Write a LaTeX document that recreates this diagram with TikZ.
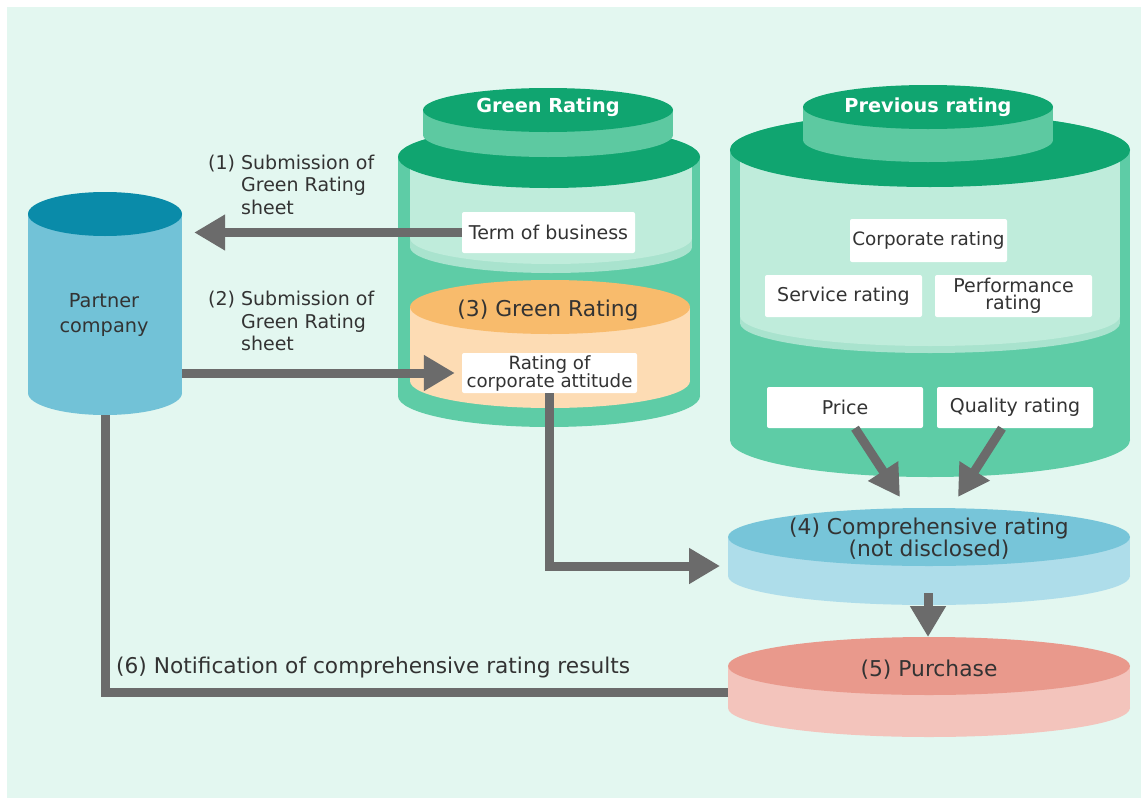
\documentclass[tikz,border=0pt]{standalone}
\usepackage{fontspec}
\setmainfont{DejaVu Sans}
\usetikzlibrary{arrows.meta}
\definecolor{bg}{HTML}{E3F7F0}
\definecolor{dkgreen}{HTML}{10A570}
\definecolor{midgreen}{HTML}{5ECCA6}
\definecolor{capgreen}{HTML}{5DC9A1}
\definecolor{lightgreen}{HTML}{BFECDB}
\definecolor{bandgreen}{HTML}{A9E3CE}
\definecolor{orangetop}{HTML}{F8BB6C}
\definecolor{orangebody}{HTML}{FDDCB4}
\definecolor{ptop}{HTML}{0A8BA9}
\definecolor{pbody}{HTML}{72C2D7}
\definecolor{ctop}{HTML}{77C5D9}
\definecolor{cbody}{HTML}{AEDDEA}
\definecolor{stop}{HTML}{E9998C}
\definecolor{sbody}{HTML}{F3C4BC}
\definecolor{arrowgray}{HTML}{6B6B6B}
\definecolor{txt}{HTML}{333333}
% cx, rx, ytop, ybot, ry, body colour, top colour
\newcommand{\mycyl}[7]{%
  \fill[#6] (#1-#2,#3) rectangle (#1+#2,#4);
  \fill[#6] (#1,#4) ellipse [x radius=#2pt, y radius=#5pt];
  \fill[#7] (#1,#3) ellipse [x radius=#2pt, y radius=#5pt];
}
% cx, rx, ytop, ybot, ry, colour  (body only, no top)
\newcommand{\mylayer}[6]{%
  \fill[#6] (#1-#2,#3) rectangle (#1+#2,#4);
  \fill[#6] (#1,#4) ellipse [x radius=#2pt, y radius=#5pt];
}
\tikzset{
  box/.style={fill=white, rounded corners=2pt, inner sep=0pt, align=center,
    text=txt, font=\fontsize{19}{17.5}\selectfont},
  lbl/.style={text=txt, inner sep=0pt, font=\fontsize{19}{22.5}\selectfont},
  disclbl/.style={text=txt, inner sep=0pt, align=center, font=\fontsize{21.8}{20}\selectfont},
  title/.style={text=white, inner sep=0pt, font=\fontsize{19.3}{22}\selectfont\bfseries},
  conn/.style={draw=arrowgray, line width=9pt, -{Triangle[length=31pt,width=34pt]}},
  plain/.style={draw=arrowgray, line width=9pt},
}
\begin{document}
\begin{tikzpicture}[x=1pt,y=-1pt]
\useasboundingbox (0,0) rectangle (1141,798);
\fill[white] (0,0) rectangle (1141,798);
\fill[bg] (7,7) rectangle (1141,798);

% ---- Partner company
\mycyl{105}{77}{214}{393}{22}{pbody}{ptop}
\node[minimum width=154pt, minimum height=223pt, inner sep=0pt] (partner) at (105,303.5) {};
\node[lbl, align=center, font=\fontsize{19.3}{25}\selectfont] (ptext) at (104,315) {Partner\\company};

% ---- Green Rating cylinder
\mycyl{549}{151}{157}{396}{31}{midgreen}{midgreen}
\mylayer{551}{141}{157}{247}{26}{bandgreen}
\mylayer{551}{141}{157}{238}{26}{lightgreen}
\mycyl{550}{140}{307}{381}{27}{orangebody}{orangetop}
\fill[dkgreen] (549,157) ellipse [x radius=151pt, y radius=31pt];
\mycyl{548}{125}{110}{135}{22}{capgreen}{dkgreen}
\node[title] (grt) at (548,107) {Green Rating};
\node[disclbl] (g3) at (548,310) {(3) Green Rating};

% ---- Previous rating cylinder
\mycyl{930}{200}{150}{440}{37}{midgreen}{midgreen}
\mylayer{930}{190}{150}{323}{30}{bandgreen}
\mylayer{930}{190}{150}{316}{30}{lightgreen}
\fill[dkgreen] (930,150) ellipse [x radius=200pt, y radius=37pt];
\mycyl{928}{125}{107}{140}{22}{capgreen}{dkgreen}
\node[title] (prt) at (928,107) {Previous rating};

% ---- Comprehensive rating disc
\mycyl{929}{201}{537}{576}{29}{cbody}{ctop}
\node[disclbl] (c4) at (929,539) {(4) Comprehensive rating\\(not disclosed)};

% ---- Purchase disc
\mycyl{929}{201}{666}{708}{29}{sbody}{stop}
\node[disclbl] (c5) at (929,670) {(5) Purchase};

% ---- boxes
\node[box, minimum width=173pt, minimum height=41pt] (term) at (548.5,232.5) {Term of business};
\node[box, minimum width=175pt, minimum height=40pt, font=\fontsize{18.2}{18}\selectfont] (attitude) at (549.5,373) {Rating of\\corporate attitude};
\node[box, minimum width=157pt, minimum height=43pt, font=\fontsize{18.4}{18}\selectfont] (corp) at (928.5,240.5) {Corporate rating};
\node[box, minimum width=157pt, minimum height=42pt] (service) at (843.5,296) {Service rating};
\node[box, minimum width=157pt, minimum height=42pt] (perf) at (1013.5,296) {Performance\\rating};
\node[box, minimum width=156pt, minimum height=41pt] (price) at (845,407.5) {Price};
\node[box, minimum width=156pt, minimum height=41pt] (quality) at (1015,407.5) {Quality rating};

% ---- labels
\node[lbl, anchor=west] (l1) at (208,187) {\begin{tabular}{@{}l@{ }l@{}}(1)&Submission of\\&Green Rating\\&sheet\end{tabular}};
\node[lbl, anchor=west] (l2) at (208,323.5) {\begin{tabular}{@{}l@{ }l@{}}(2)&Submission of\\&Green Rating\\&sheet\end{tabular}};
\node[lbl, anchor=west, font=\fontsize{21.7}{24}\selectfont] (l6) at (116,668) {(6) Notification of comprehensive rating results};

% ---- coordinates
\coordinate (compL) at (728,566);
\coordinate (t4a) at (900,497);
\coordinate (t4b) at (958,497);
\coordinate (c4b) at (928,593);
\coordinate (c5t) at (928,637);
\coordinate (purchL) at (728,692);

% ---- connectors
\draw[conn, shorten >=12pt] (term.west) -- (term.west -| partner.east);
\draw[conn, shorten >=7pt] (partner.east |- attitude.west) -- (attitude.west);
\draw[conn, shorten >=8pt] (attitude.south) |- (compL);
\draw[conn] ([xshift=10pt]price.south) -- (t4a);
\draw[conn] ([xshift=-13pt]quality.south) -- (t4b);
\draw[conn] (c4b) -- (c5t);
\draw[plain] (purchL) -- (partner.south |- purchL) -- (partner.south);
\end{tikzpicture}
\end{document}
